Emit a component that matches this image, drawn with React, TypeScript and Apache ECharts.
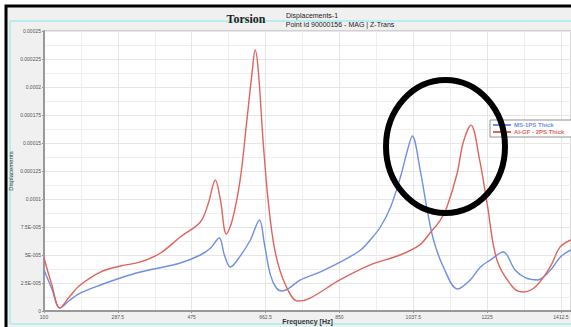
import React, { useEffect, useRef } from "react";
import * as echarts from "echarts";

const blueHz = [100, 120, 140, 166, 193, 243, 294, 345, 446, 497, 523, 545, 558, 573, 598, 624, 647, 660, 675, 690, 705, 751, 802, 853, 904, 928, 954, 980, 1005, 1023, 1035, 1055, 1073, 1089, 1114, 1150, 1182, 1208, 1233, 1266, 1296, 1323, 1353, 1386, 1411, 1438];
const blueVals = [3.66, 1.96, 0.27, 0.98, 1.61, 2.32, 2.95, 3.48, 4.29, 5.0, 5.63, 6.52, 5.0, 3.93, 4.9, 6.34, 8.13, 5.9, 3.2, 2.05, 1.79, 2.77, 3.5, 4.38, 5.45, 6.34, 7.5, 9.29, 11.97, 14.38, 15.63, 12.6, 9.0, 6.34, 3.93, 1.96, 2.77, 3.93, 4.55, 5.27, 3.66, 2.95, 2.77, 3.66, 4.82, 5.45];

const redHz = [100, 120, 140, 166, 192, 243, 294, 345, 396, 446, 497, 517, 535, 548, 563, 578, 598, 615, 629, 636, 644, 656, 669, 686, 711, 745, 776, 851, 927, 1004, 1054, 1080, 1106, 1123, 1149, 1164, 1184, 1206, 1225, 1250, 1290, 1316, 1347, 1385, 1410, 1438];
const redVals = [4.73, 2.32, 0.27, 1.34, 2.32, 3.48, 4.02, 4.38, 5.18, 6.61, 7.95, 9.6, 11.7, 9.9, 6.88, 8.1, 11.7, 17.0, 21.5, 23.3, 21.5, 15.3, 9.9, 5.45, 2.5, 0.89, 1.16, 2.77, 4.1, 5.0, 5.9, 6.97, 8.1, 9.29, 12.3, 15.0, 16.6, 13.5, 9.6, 4.55, 2.14, 1.7, 2.14, 3.93, 5.7, 6.34];

const seriesNames = ["MS-1PS Thick", "Al-GF - 2PS Thick"];
const xTickLabels = ["100", "287.5", "475", "662.5", "850", "1037.5", "1225", "1412.5"];
const yTickLabels = ["0", "2.5E-005", "5E-005", "7.5E-005", "0.0001", "0.000125", "0.00015", "0.000175", "0.0002", "0.000225", "0.00025"];

const BLUE = "#6f8fe3";
const RED = "#e0645c";
const FONT = "Liberation Sans, Arial, sans-serif";

export default function App() {
  const ref = useRef<HTMLDivElement>(null);
  useEffect(() => {
    if (!ref.current) return;
    const chart = echarts.init(ref.current, undefined, { renderer: "svg" });
    const blueData = blueHz.map((h, i) => [h, blueVals[i] * 1e-5]);
    const redData = redHz.map((h, i) => [h, redVals[i] * 1e-5]);
    chart.setOption({
      animation: false,
      backgroundColor: "#ffffff",
      textStyle: { fontFamily: FONT },
      grid: {
        left: 44, right: 0, top: 31, bottom: 16,
        outerBoundsMode: "none",
        containLabel: false,
        show: true, backgroundColor: "#ffffff", borderColor: "#b0b0b0", borderWidth: 1,
      },
      legend: {
        orient: "vertical",
        left: 490, top: 120,
        padding: [2, 8, 2, 3],
        itemGap: 1,
        itemWidth: 18, itemHeight: 2,
        icon: "rect",
        backgroundColor: "#ffffff",
        borderColor: "#909090",
        borderWidth: 1,
        borderRadius: 0,
        textStyle: { fontSize: 6, fontWeight: "bold", fontFamily: FONT, padding: [0, 0, 0, -2] },
        data: [
          { name: seriesNames[0], textStyle: { color: BLUE } },
          { name: seriesNames[1], textStyle: { color: RED } },
        ],
      },
      xAxis: {
        type: "value",
        min: 100, max: 1438, interval: 187.5,
        name: "Frequency [Hz]",
        nameLocation: "middle",
        nameGap: 7,
        nameMoveOverlap: false,
        nameTextStyle: { fontSize: 7, fontWeight: "bold", color: "#333", fontFamily: FONT },
        axisLine: { show: true, lineStyle: { color: "#999", width: 2 } },
        axisTick: { show: true, length: 2, lineStyle: { color: "#999" } },
        axisLabel: {
          fontSize: 5, color: "#555", margin: 3, showMaxLabel: false,
          formatter: (v: number) => xTickLabels[Math.round((v - 100) / 187.5)] ?? "",
        },
        splitLine: { show: true, lineStyle: { color: "#e6e6e6", width: 1 } },
        minorTick: { show: false, splitNumber: 2 },
        minorSplitLine: { show: true, lineStyle: { color: "#eeeeee", width: 1 } },
      },
      yAxis: {
        type: "value",
        min: 0, max: 0.00025, interval: 0.000025,
        name: "Displacements",
        nameLocation: "middle",
        nameGap: 30,
        nameMoveOverlap: false,
        nameRotate: 90,
        nameTextStyle: { fontSize: 6, color: "#333", fontFamily: FONT },
        axisLine: { show: true, lineStyle: { color: "#999", width: 2 } },
        axisTick: { show: true, length: 2, lineStyle: { color: "#999" } },
        axisLabel: {
          fontSize: 5, color: "#555", margin: 3,
          formatter: (v: number) => yTickLabels[Math.round(v / 0.000025)] ?? "",
        },
        splitLine: { show: true, lineStyle: { color: "#e6e6e6", width: 1 } },
        minorTick: { show: false, splitNumber: 2 },
        minorSplitLine: { show: true, lineStyle: { color: "#eeeeee", width: 1 } },
      },
      series: [
        {
          name: seriesNames[0], type: "line", data: blueData, smooth: 0.35,
          showSymbol: false, lineStyle: { color: BLUE, width: 1.4 }, itemStyle: { color: BLUE },
        },
        {
          name: seriesNames[1], type: "line", data: redData, smooth: 0.35,
          showSymbol: false, lineStyle: { color: RED, width: 1.4 }, itemStyle: { color: RED },
        },
      ],
      graphic: [
        { type: "rect", z: -10, shape: { x: 6, y: 6, width: 600, height: 340 }, style: { fill: "#f0f0f0", stroke: "#000", lineWidth: 3 } },
        { type: "line", z: -9, shape: { x1: 10, y1: 21, x2: 571, y2: 21 }, style: { stroke: "#a8ecf0", lineWidth: 1.5 } },
        { type: "line", z: -9, shape: { x1: 10, y1: 21, x2: 10, y2: 324 }, style: { stroke: "#a8ecf0", lineWidth: 1.5 } },
        { type: "line", z: -9, shape: { x1: 10, y1: 324, x2: 571, y2: 324 }, style: { stroke: "#a8ecf0", lineWidth: 1.5 } },
        { type: "text", z: 10, x: 246, y: 19, style: { text: "Torsion", font: "bold 12px 'Liberation Serif', serif", fill: "#222", textAlign: "center", textVerticalAlign: "middle" } },
        { type: "text", z: 10, x: 312, y: 15, style: { text: "Displacements-1", font: "7px 'Liberation Sans', sans-serif", fill: "#222", textAlign: "center", textVerticalAlign: "middle" } },
        { type: "text", z: 10, x: 340, y: 24.5, style: { text: "Point id 90000156 - MAG | Z-Trans", font: "7px 'Liberation Sans', sans-serif", fill: "#222", textAlign: "center", textVerticalAlign: "middle" } },
        { type: "ellipse", z: 100, shape: { cx: 445.5, cy: 146.5, rx: 59.5, ry: 66.5 }, style: { fill: "none", stroke: "#000", lineWidth: 6 } },
      ],
    });
    return () => chart.dispose();
  }, []);
  return (
    <div
      ref={ref}
      style={{ position: "fixed", left: 0, top: 0, width: 571, height: 327 }}
    />
  );
}
